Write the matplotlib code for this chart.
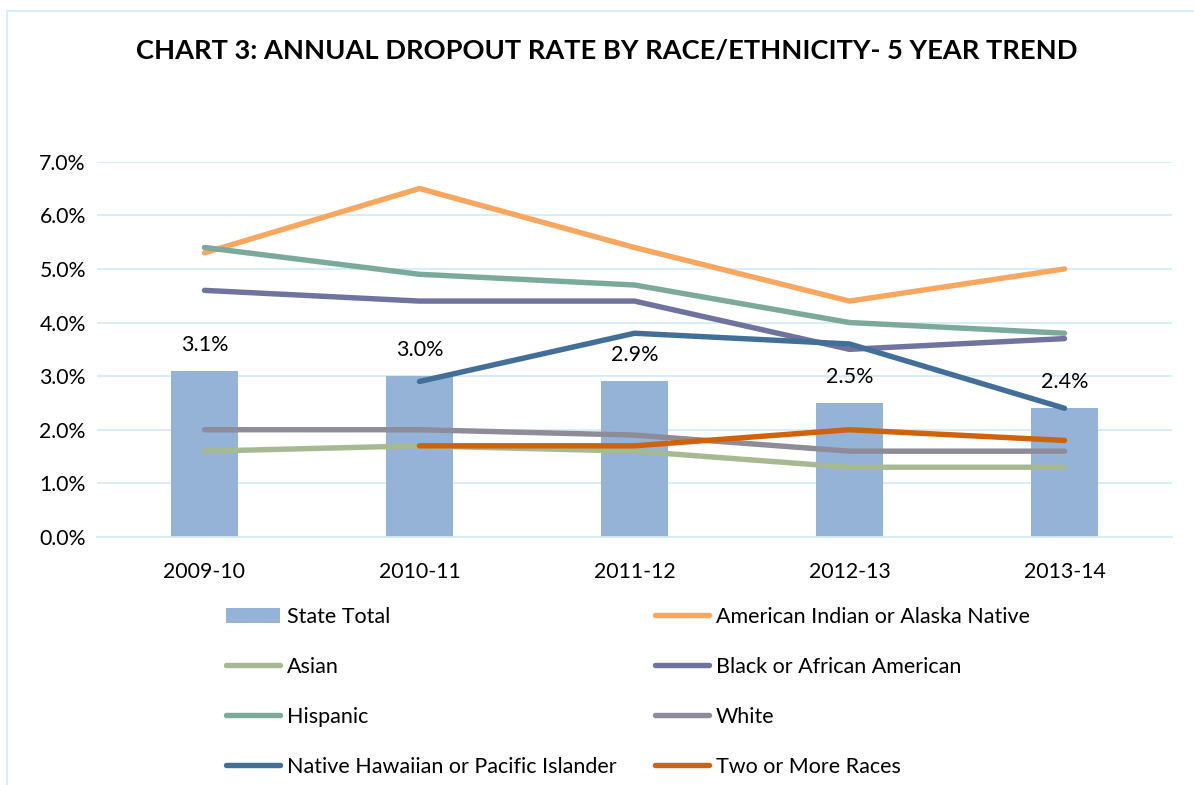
import matplotlib.pyplot as plt
from matplotlib.lines import Line2D
from matplotlib.ticker import FuncFormatter

years = ["2009-10", "2010-11", "2011-12", "2012-13", "2013-14"]
state_total = [3.1, 3.0, 2.9, 2.5, 2.4]
am_indian = [5.3, 6.5, 5.4, 4.4, 5.0]
asian = [1.6, 1.7, 1.6, 1.3, 1.3]
black = [4.6, 4.4, 4.4, 3.5, 3.7]
hispanic = [5.4, 4.9, 4.7, 4.0, 3.8]
white = [2.0, 2.0, 1.9, 1.6, 1.6]
hawaiian = [None, 2.9, 3.8, 3.6, 2.4]
two_more = [None, 1.7, 1.7, 2.0, 1.8]

plt.rcParams['font.family'] = ['Lato', 'DejaVu Sans']

fig = plt.figure(figsize=(11.94, 7.85), dpi=100)
ax = fig.add_axes([0.0812, 0.316, 0.9004, 0.478])

x = list(range(len(years)))
bars = ax.bar(x, state_total, width=0.31, color='#95B3D7', label='State Total', zorder=2)
for xi, v in zip(x, state_total):
    ax.text(xi, v + 0.3, f"{v:.1f}%", ha='center', va='bottom', fontsize=15.5, color='black')

def line(vals, color, label):
    pts = [(xi, v) for xi, v in zip(x, vals) if v is not None]
    return ax.plot([p[0] for p in pts], [p[1] for p in pts], color=color, lw=3.9,
                   solid_capstyle='round', solid_joinstyle='round', label=label, zorder=3)[0]

h_ai = line(am_indian, '#F9A65F', 'American Indian or Alaska Native')
h_as = line(asian, '#A6B993', 'Asian')
h_bl = line(black, '#6F739E', 'Black or African American')
h_hi = line(hispanic, '#7BA99A', 'Hispanic')
h_wh = line(white, '#8E8C98', 'White')
h_nh = line(hawaiian, '#426F97', 'Native Hawaiian or Pacific Islander')
h_tw = line(two_more, '#CF620A', 'Two or More Races')

ax.set_xlim(-0.5, 4.5)
ax.set_ylim(0, 7)
ax.set_yticks([0, 1, 2, 3, 4, 5, 6, 7])
ax.yaxis.set_major_formatter(FuncFormatter(lambda v, p: f"{v:.1f}%"))
ax.set_xticks(x)
ax.set_xticklabels(years)
ax.tick_params(axis='both', length=0, labelsize=15.3)
ax.tick_params(axis='x', pad=18)
ax.tick_params(axis='y', pad=8)
ax.grid(axis='y', color='#D6ECF6', lw=1.3, zorder=0)
for s in ['left', 'right', 'top']:
    ax.spines[s].set_visible(False)
ax.spines['bottom'].set_color('#D6ECF6')
ax.spines['bottom'].set_linewidth(1.3)

fig.text(0.508, 0.935, "CHART 3: ANNUAL DROPOUT RATE BY RACE/ETHNICITY- 5 YEAR TREND",
         ha='center', va='center', fontsize=19.6, fontweight='bold')

handles = [bars, h_as, h_hi, h_nh, h_ai, h_bl, h_wh, h_tw]
fig.legend(handles=handles, labels=[h.get_label() for h in handles], ncol=2,
           loc='upper left', bbox_to_anchor=(0.173, 0.2515), frameon=False, fontsize=15.5,
           handlelength=2.5, handletextpad=0.33, columnspacing=1.8, labelspacing=1.39)

# chart frame: only the left and top edges show
fig.lines.append(Line2D([6.5 / 1194, 6.5 / 1194, 1.0], [0.0, 1 - 10.5 / 785, 1 - 10.5 / 785],
                        transform=fig.transFigure, color='#D5EEF8', lw=1.4))

fig.savefig('out.png', dpi=100)
